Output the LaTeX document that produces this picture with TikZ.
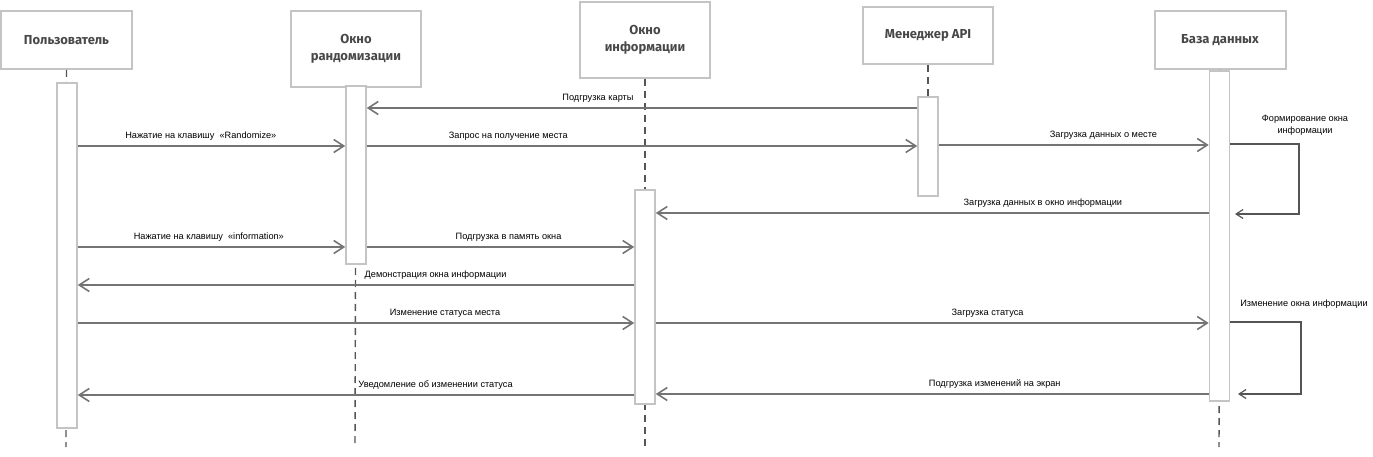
\documentclass[tikz,border=0pt]{standalone}
\usepackage{fontspec}
\setmainfont{Liberation Sans}
\newfontfamily\headfont{Fira Sans}
\usetikzlibrary{arrows.meta}
\definecolor{boxgray}{HTML}{C4C4C4}
\definecolor{linegray}{HTML}{747474}
\definecolor{lifegray}{HTML}{555555}
\definecolor{headtext}{HTML}{484848}
\tikzset{
  head/.style={draw=boxgray, line width=2pt, fill=white, align=center,
    font=\headfont\bfseries\fontsize{13}{17}\selectfont, text=headtext, inner sep=0pt},
  act/.style={draw=boxgray, line width=1.6pt, fill=white, inner sep=0pt, minimum width=20},
  life/.style={draw=lifegray, line width=1.4pt, dash pattern=on 7pt off 5pt},
  msg/.style={draw=linegray, line width=2pt, -{Straight Barb[length=10pt,width=13pt,line width=1.6pt]}},
  loopmsg/.style={draw=lifegray, line width=1.2pt, -{Straight Barb[length=7pt,width=9pt,line width=1.2pt]}},
  lbl/.style={font=\fontsize{9.2}{12.5}\selectfont, text=black, inner sep=0pt, align=center},
}
\begin{document}
\begin{tikzpicture}[x=1pt,y=-1pt]
\useasboundingbox (0,0) rectangle (1373,457);
% header boxes
\node[head, minimum width=131, minimum height=58] (U) at (66.5,40) {Пользователь};
\node[head, minimum width=130, minimum height=76] (R) at (356,49) {Окно\\рандомизации};
\node[head, minimum width=130, minimum height=76] (I) at (645,40) {Окно\\информации};
\node[head, minimum width=130, minimum height=57] (A) at (928,35.5) {Менеджер API};
\node[head, minimum width=131, minimum height=58] (D) at (1220,40) {База данных};
% lifeline end points
\coordinate (Ue) at (66,447);
\coordinate (Re) at (355,447);
\coordinate (Ie) at (645,447);
\coordinate (Ae) at (928,447);
\coordinate (De) at (1219,447);
% lifelines
\draw[life] (U.south) -- (Ue);
\draw[life] (R.south) -- (Re);
\draw[life] (I.south) -- (Ie);
\draw[life] (A.south) -- (A.south |- 0,97);
\draw[life] (D.south) -- (De);
% activations
\node[act, minimum height=345] (Ua) at (67,255.5) {};
\node[act, minimum height=178] (Ra) at (356,175) {};
\node[act, minimum height=214] (Ia) at (645,297) {};
\node[act, minimum height=99] (Aa) at (928,146.5) {};
\node[act, minimum height=330] (Da) at (1219.5,236) {};
% messages
\draw[msg] (Aa.west |- 0,108) -- node[lbl, above=5pt, pos=0.58] {Подгрузка карты} (Ra.east |- 0,108);
\draw[msg] (Ua.east |- 0,146) -- node[lbl, above=5pt, pos=0.46] {Нажатие на клавишу \ «Randomize»} (Ra.west |- 0,146);
\draw[msg] (Ra.east |- 0,146) -- node[lbl, above=5pt, pos=0.257] {Запрос на получение места} (Aa.west |- 0,146);
\draw[msg] (Aa.east |- 0,145) -- node[lbl, above=5pt, pos=0.61] {Загрузка данных о месте} (Da.west |- 0,145);
\draw[loopmsg] (Da.east |- 0,144) -- (1299,144) -- (1299,214) -- (1235,214);
\node[lbl, anchor=south] (L1) at (1305,136) {Формирование окна\\информации};
\draw[msg] (Da.west |- 0,213) -- node[lbl, above=5pt, pos=0.30] {Загрузка данных в окно информации} (Ia.east |- 0,213);
\draw[msg] (Ua.east |- 0,247) -- node[lbl, above=5pt, pos=0.49] {Нажатие на клавишу \ «information»} (Ra.west |- 0,247);
\draw[msg] (Ra.east |- 0,247) -- node[lbl, above=5pt, pos=0.53] {Подгрузка в память окна} (Ia.west |- 0,247);
\draw[msg] (Ia.west |- 0,285) -- node[lbl, above=5pt, pos=0.357] {Демонстрация окна информации} (Ua.east |- 0,285);
\draw[msg] (Ua.east |- 0,323) -- node[lbl, above=5pt, pos=0.66] {Изменение статуса места} (Ia.west |- 0,323);
\draw[msg] (Ia.east |- 0,323) -- node[lbl, above=5pt, pos=0.60] {Загрузка статуса} (Da.west |- 0,323);
\draw[loopmsg] (Da.east |- 0,322) -- (1301,322) -- (1301,394) -- (1238,394);
\node[lbl, anchor=south] (L2) at (1304,309) {Изменение окна информации};
\draw[msg] (Da.west |- 0,394) -- node[lbl, above=5pt, pos=0.387] {Подгрузка изменений на экран} (Ia.east |- 0,394);
\draw[msg] (Ia.west |- 0,395) -- node[lbl, above=5pt, pos=0.357] {Уведомление об изменении статуса} (Ua.east |- 0,395);
\end{tikzpicture}
\end{document}
